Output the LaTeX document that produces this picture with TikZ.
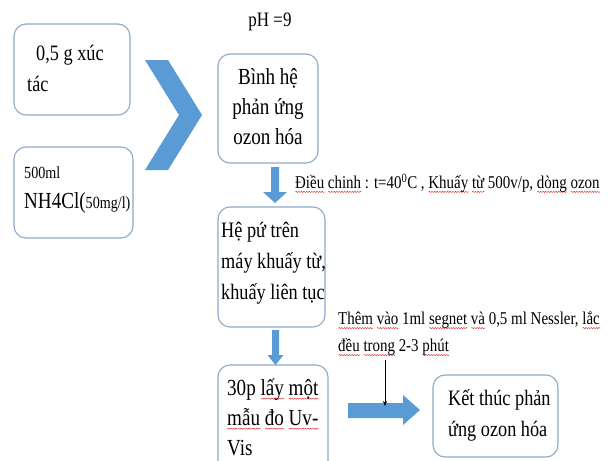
\documentclass[tikz,border=0pt]{standalone}
\usepackage{fontspec}
\setmainfont{Liberation Serif}[FakeStretch=0.83]
\usetikzlibrary{arrows.meta,decorations.pathmorphing}
\definecolor{boxline}{HTML}{8FA9C9}
\definecolor{arrowblue}{HTML}{5B9BD5}
\definecolor{squiggle}{HTML}{E03030}
\newdimen\sqwidth
\newcommand\sq[1]{\setbox0=\hbox{#1}\sqwidth=\wd0\relax
  \rlap{\raisebox{-3.5pt}[0pt][0pt]{\tikz[baseline=0pt]\draw[squiggle,line width=0.45pt,decorate,decoration={snake,amplitude=0.6pt,segment length=2.6pt}] (0pt,0pt) -- (\sqwidth,0pt);}}\box0\relax}
\begin{document}
\begin{tikzpicture}[x=1pt,y=-1pt,
  box/.style={draw=boxline, line width=1.1pt, rounded corners=12pt, inner sep=0pt},
  maintext/.style={font=\fontsize{23}{30}\selectfont, inner sep=0pt, align=left},
  midtext/.style={font=\fontsize{22}{31}\selectfont, inner sep=0pt, align=left},
  note/.style={font=\fontsize{18}{27}\selectfont, inner sep=0pt, align=left}]
\useasboundingbox (0,0) rectangle (614,461);
\clip (0,0) rectangle (614,461);
\fill[white] (0,0) rectangle (614,461);

% boxes
\node[box, minimum width=116pt, minimum height=91pt] (b1) at (72,69.5) {};
\node[box, minimum width=119pt, minimum height=91pt] (b2) at (73.5,192.5) {};
\node[box, minimum width=100pt, minimum height=109pt] (b3) at (268,108.5) {};
\node[box, minimum width=107pt, minimum height=120pt] (b4) at (271.5,267) {};
\node[box, minimum width=110pt, minimum height=110pt] (b5) at (273,420) {};
\node[box, minimum width=125pt, minimum height=82pt] (b6) at (495.5,416) {};

% texts
\node[midtext, anchor=west] (t1) at (27,68) {\hspace*{9pt}0,5 g xúc\\tác};
\node[maintext, anchor=west] (t2) at (24,190) {{\fontsize{17}{30}\selectfont 500ml}\\NH4Cl({\fontsize{17}{30}\selectfont 50mg/l)}};
\node[maintext, align=center] (t3) at (268,107) {Bình hệ\\phản ứng\\ozon hóa};
\node[midtext, anchor=west] (t4) at (221,263) {Hệ pứ trên\\máy khuấy từ,\\khuấy liên tục};
\node[maintext, anchor=west] (t5) at (227,417) {30p \sq{lấy} \sq{một}\\\sq{mẫu} \sq{đo} \sq{Uv-}\\Vis};
\node[midtext, anchor=west] (t6) at (448,415) {Kết thúc phản\\ứng ozon hóa};
\node[font=\fontsize{20.5}{24}\selectfont, inner sep=0pt] (ph) at (270,22) {pH =9};
\node[note, anchor=west] (n1) at (295,183) {\sq{Điều} \sq{chinh} : t=40\textsuperscript{0}C , \sq{Khuấy} \sq{từ} 500v/p, \sq{dòng} \sq{ozon}};
\node[note, anchor=west] (n2) at (338,333.5) {\sq{Thêm} \sq{vào} 1ml \sq{segnet} \sq{và} 0,5 ml Nessler, \sq{lắc}\\\sq{đều} \sq{trong} 2-3 \sq{phút}};

% chevron
\fill[arrowblue] (145,60) -- (168,60) -- (202,115) -- (168,170) -- (145,170) -- (179,115) -- cycle;

% block arrows
\fill[arrowblue] (271,167) -- (279,167) -- (279,192) -- (287,192) -- (275,203) -- (263,192) -- (271,192) -- cycle;
\fill[arrowblue] (272,330) -- (279,330) -- (279,355) -- (283.5,355) -- (275.5,365) -- (267.5,355) -- (272,355) -- cycle;
\fill[arrowblue] (348,403) -- (403,403) -- (403,395) -- (420,410) -- (403,425) -- (403,418) -- (348,418) -- cycle;

% thin arrow
\coordinate (ts) at (385,360);
\coordinate (te) at (385,406);
\draw[line width=0.7pt, -{Stealth[length=5pt,width=4pt]}] (ts) -- (te);
\end{tikzpicture}
\end{document}
